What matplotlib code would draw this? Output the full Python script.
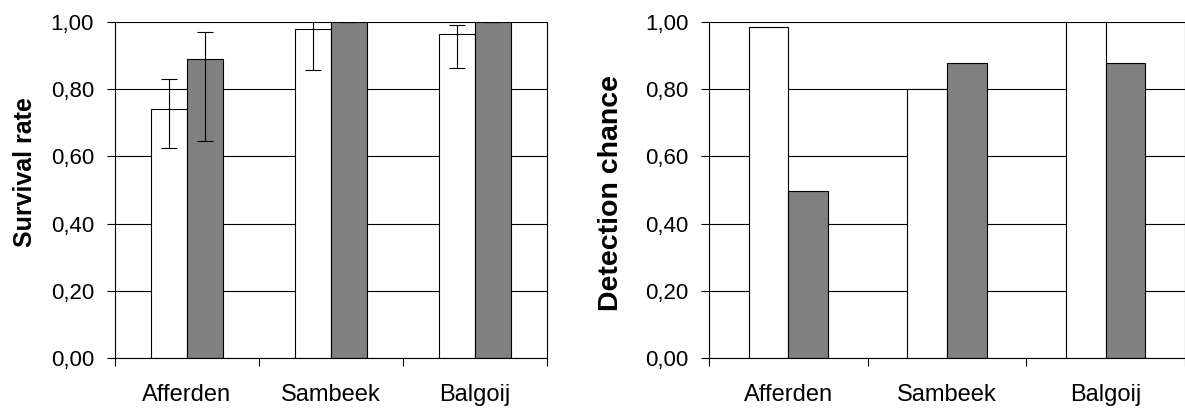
import numpy as np
import matplotlib.pyplot as plt

plt.rcParams['font.family'] = ['Liberation Sans', 'DejaVu Sans']

sites = ['Afferden', 'Sambeek', 'Balgoij']

# survival rate, two groups, with lower/upper confidence bounds
surv_a = [0.741, 0.978, 0.965]
surv_a_lo = [0.625, 0.856, 0.863]
surv_a_hi = [0.829, 1.100, 0.992]
surv_b = [0.890, 1.000, 1.000]
surv_b_lo = [0.645, 1.000, 1.000]
surv_b_hi = [0.971, 1.000, 1.000]

# detection chance, two groups
det_a = [0.985, 0.802, 1.000]
det_b = [0.496, 0.877, 0.877]

yticks = [0.0, 0.2, 0.4, 0.6, 0.8, 1.0]
ytick_labels = ['0,00', '0,20', '0,40', '0,60', '0,80', '1,00']

fig = plt.figure(figsize=(11.85, 4.08), dpi=100)
ax1 = fig.add_axes([0.0970, 0.1225, 0.3646, 0.8235])
ax2 = fig.add_axes([0.5983, 0.1225, 0.4017, 0.8235])

W = 0.25
x = np.arange(len(sites))


def style(ax, ylabel, size, labelpad, ly):
    ax.set_xlim(-0.5, 2.5)
    ax.set_ylim(0, 1)
    ax.set_yticks(yticks)
    ax.set_yticklabels(ytick_labels, fontsize=16)
    ax.yaxis.grid(True, color='black', lw=0.8)
    ax.set_axisbelow(True)
    ax.set_xticks([-0.5, 0.5, 1.5, 2.5])
    ax.set_xticklabels([])
    ax.set_xticks(x, minor=True)
    ax.set_xticklabels(sites, minor=True, fontsize=17)
    ax.tick_params(axis='x', which='minor', length=0, pad=18.5)
    ax.tick_params(axis='y', which='major', pad=9)
    ax.tick_params(axis='both', which='major', length=6, width=0.8,
                   direction='out')
    for s in ax.spines.values():
        s.set_linewidth(0.8)
    ax.spines['top'].set_visible(False)
    ax.set_ylabel(ylabel, fontsize=size, fontweight='bold', labelpad=labelpad)
    ax.yaxis.label.set_y(ly)


kw = dict(width=W, edgecolor='black', lw=0.8, zorder=2)

ax1.bar(x - W / 2, surv_a, color='white', **kw)
ax1.bar(x + W / 2, surv_b, color='#808080', **kw)
for xs, v, lo, hi in [(x - W / 2, surv_a, surv_a_lo, surv_a_hi),
                      (x + W / 2, surv_b, surv_b_lo, surv_b_hi)]:
    v, lo, hi = map(np.array, (v, lo, hi))
    ax1.errorbar(xs, v, yerr=[v - lo, hi - v], fmt='none', ecolor='black',
                 elinewidth=0.8, capsize=5.5, capthick=0.8, zorder=3)
style(ax1, 'Survival rate', 18, 10, 0.553)

ax2.bar(x - W / 2, det_a, color='white', **kw)
ax2.bar(x + W / 2, det_b, color='#808080', **kw)
style(ax2, 'Detection chance', 20.5, 15, 0.49)

fig.savefig('out.png', dpi=100)
